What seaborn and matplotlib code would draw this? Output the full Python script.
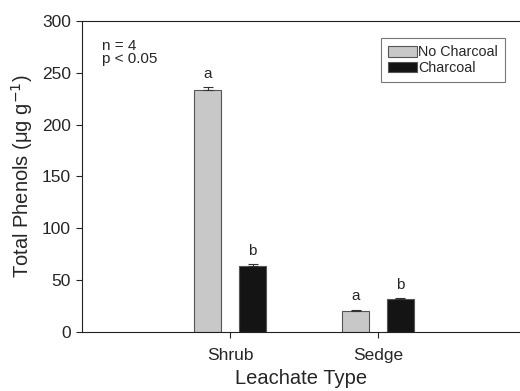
import matplotlib
matplotlib.use("Agg")
import matplotlib.pyplot as plt
import seaborn as sns
import pandas as pd
from matplotlib.patches import Patch

sns.set_style("ticks")
plt.rcParams['font.family'] = ['Liberation Sans', 'DejaVu Sans']

leachate = ["Shrub", "Shrub", "Sedge", "Sedge"]
treatment = ["No Charcoal", "Charcoal", "No Charcoal", "Charcoal"]
phenols = [233.8, 63.4, 20.0, 31.5]
errors = [2.5, 1.6, 1.2, 0.7]
letters = ["a", "b", "a", "b"]
hue_order = ["No Charcoal", "Charcoal"]
colors = {"No Charcoal": "#c8c8c8", "Charcoal": "#141414"}

df = pd.DataFrame({"Leachate": leachate, "Treatment": treatment,
                   "Phenols": phenols, "Err": errors, "Letter": letters})

fig = plt.figure(figsize=(5.2, 3.91), dpi=100)
ax = fig.add_axes([0.158, 0.152, 0.842, 0.794])

sns.barplot(data=df, x="Leachate", y="Phenols", hue="Treatment",
            hue_order=hue_order, order=["Shrub", "Sedge"], palette=colors,
            width=0.608, gap=0.4, errorbar=None, edgecolor="#555555",
            linewidth=0.8, ax=ax, legend=False)

# error bars and letters
for i, t in enumerate(hue_order):
    cont = ax.containers[i]
    sub = df[df.Treatment == t].set_index("Leachate").loc[["Shrub", "Sedge"]]
    for bar, (_, row) in zip(cont.patches, sub.iterrows()):
        xc = bar.get_x() + bar.get_width() / 2
        h = bar.get_height()
        ax.errorbar(xc, h, yerr=[[0], [row.Err]], fmt="none", ecolor="#333333",
                    elinewidth=0.8, capsize=3.5, capthick=0.8)
        ax.text(xc, h + row.Err + 6, row.Letter, ha="center", va="bottom",
                fontsize=11)

ax.set_xlim(-1, 1.96)
ax.set_ylim(0, 300)
ax.set_yticks([0, 50, 100, 150, 200, 250, 300])
ax.tick_params(axis="both", labelsize=12.5, length=4.5, width=0.8, direction="out")
ax.tick_params(axis="x", pad=7)
ax.set_xlabel("Leachate Type", fontsize=14.5, labelpad=5)
ax.set_ylabel("Total Phenols (\u03bcg g$^{-1}$)", fontsize=14.5, labelpad=5)
for s in ["left", "bottom", "top"]:
    ax.spines[s].set_linewidth(0.8)
    ax.spines[s].set_color("#222222")
ax.spines["right"].set_visible(False)

ax.text(0.045, 0.855, "n = 4\np < 0.05", transform=ax.transAxes, fontsize=11,
        va="bottom", linespacing=0.9)

handles = [Patch(facecolor=colors[t], edgecolor="#555555", linewidth=0.8, label=t)
           for t in hue_order]
leg = ax.legend(handles=handles, loc="upper left", bbox_to_anchor=(0.682, 0.945),
                frameon=True, fancybox=False, fontsize=10.3, handlelength=2.0,
                handleheight=0.75, handletextpad=0.1, labelspacing=0.1,
                borderpad=0.5, borderaxespad=0)
leg.get_frame().set_edgecolor("#555555")
leg.get_frame().set_linewidth(0.8)

fig.savefig("out.png", dpi=100)
